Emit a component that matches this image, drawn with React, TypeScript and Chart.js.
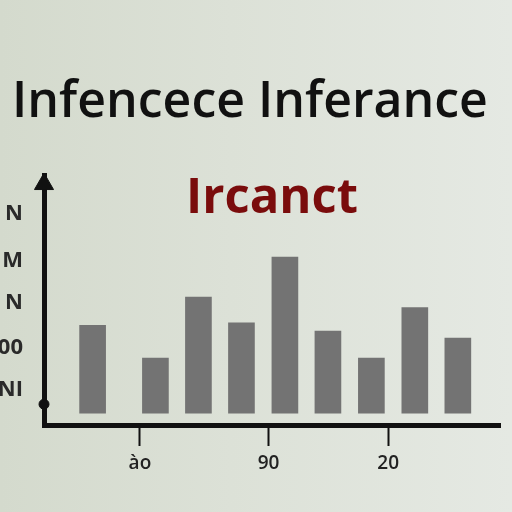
import React, { useEffect, useRef } from "react";
import { Chart, registerables } from "chart.js";

Chart.register(...registerables);

// ---- data ----
const titleText = "Infencece Inferance";
const subtitleText = "Ircanct";
const barPositions = [1.13, 2.59, 3.59, 4.59, 5.6, 6.6, 7.61, 8.62, 9.62];
const barValues = [7.5, 4.7, 9.9, 7.7, 13.3, 7.0, 4.7, 9.0, 6.4];
const yTickValues = [16.98, 12.97, 9.4, 5.56, 1.98];
const yTickLabels = ["N", "M", "N", "00", "NI"];
const xTickValues = [2.23, 5.22, 8.0];
const xTickLabels = ["ào", "90", "20"];
const axisDotValue = 0.77;
const arrowValue = 19.53;
const xRange = [0, 10.6];
const yRange = [-1, 20.3];

export default function App() {
  const canvasRef = useRef<HTMLCanvasElement | null>(null);

  useEffect(() => {
    if (!canvasRef.current) return;
    const chart = new Chart(canvasRef.current, {
      type: "bar",
      data: {
        datasets: [
          {
            type: "bar",
            data: barPositions.map((x, i) => ({ x, y: barValues[i] })),
            backgroundColor: "#737373",
            borderWidth: 0,
            barThickness: 26,
          } as any,
          {
            type: "scatter",
            data: [{ x: xRange[0], y: axisDotValue }],
            pointStyle: "circle",
            pointRadius: 5,
            backgroundColor: "#111111",
            borderColor: "#111111",
            borderWidth: 1,
            clip: false,
          } as any,
          {
            type: "scatter",
            data: [{ x: xRange[0], y: arrowValue }],
            pointStyle: "triangle",
            pointRadius: 11,
            backgroundColor: "#111111",
            borderColor: "#111111",
            borderWidth: 1,
            clip: false,
          } as any,
        ],
      },
      options: {
        responsive: false,
        animation: false,
        events: [],
        layout: { padding: { top: 0, right: 12, bottom: 0, left: 0 } },
        plugins: {
          legend: { display: false },
          tooltip: { enabled: false },
          title: {
            display: true,
            text: titleText,
            color: "#111111",
            font: { family: "'Open Sans'", size: 50, weight: "600", lineHeight: 1.2 },
            padding: { top: 72.6, bottom: 0 },
          },
          subtitle: {
            display: true,
            text: subtitleText,
            color: "#7a0c0c",
            fullSize: false,
            font: { family: "'Open Sans'", size: 49, weight: "700", lineHeight: 1.2 },
            padding: { top: 37.3, bottom: -53.7 },
          },
        },
        scales: {
          x: {
            type: "linear",
            min: xRange[0],
            max: xRange[1],
            offset: false,
            afterFit: (scale: any) => {
              scale.height = 87;
            },
            afterBuildTicks: (scale: any) => {
              scale.ticks = xTickValues.map((v) => ({ value: v }));
            },
            ticks: {
              autoSkip: false,
              maxRotation: 0,
              padding: 6,
              color: "#222222",
              font: { family: "'Open Sans'", size: 19, weight: "600" },
              callback: (_v: any, i: number) => xTickLabels[i],
            },
            grid: {
              display: true,
              offset: false,
              drawOnChartArea: false,
              drawTicks: true,
              tickLength: 21,
              tickWidth: 2,
              tickColor: "#111111",
              color: "#111111",
            },
            border: { display: true, color: "#111111", width: 5 },
          },
          y: {
            type: "linear",
            min: yRange[0],
            max: yRange[1],
            afterFit: (scale: any) => {
              scale.width = 44;
            },
            afterBuildTicks: (scale: any) => {
              scale.ticks = yTickValues.map((v) => ({ value: v }));
            },
            ticks: {
              autoSkip: false,
              padding: 21,
              color: "#2a2a2a",
              font: { family: "'Open Sans'", size: 22, weight: "700" },
              callback: (_v: any, i: number) => yTickLabels[i],
            },
            grid: { display: false, drawTicks: false },
            border: { display: true, color: "#111111", width: 5 },
          },
        },
      },
    } as any);
    return () => chart.destroy();
  }, []);

  return (
    <div
      style={{
        position: "fixed",
        left: 0,
        top: 0,
        width: 512,
        height: 512,
        background:
          "linear-gradient(90deg, #d4dacd 0%, #dce1d7 45%, #e5e9e3 100%)",
      }}
    >
      <canvas ref={canvasRef} width={512} height={512} />
    </div>
  );
}
